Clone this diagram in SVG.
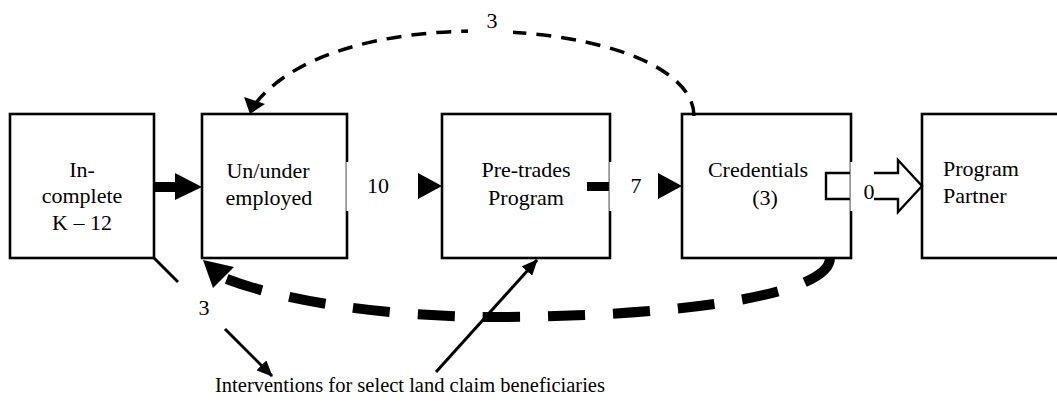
<svg xmlns="http://www.w3.org/2000/svg" width="1057" height="415" viewBox="0 0 1057 415">
  <style>
    .box { fill: #fff; stroke: #000; stroke-width: 2.6; }
    text { font-family: 'Liberation Serif', 'Times New Roman', serif; font-size: 22px; fill: #000; }
    .mid { text-anchor: middle; }
    .note { font-size: 20.5px; }
    .thin { fill: none; stroke: #000; stroke-width: 3; }
    .gap { fill: #fff; stroke: none; }
    .edge { stroke: #999; stroke-width: 1; }
    .dash-top { fill: none; stroke: #000; stroke-width: 3.5; stroke-dasharray: 15 10; }
    .dash-bottom { fill: none; stroke: #000; stroke-width: 10; stroke-dasharray: 37 28; }
    .hollow { fill: none; stroke: #000; stroke-width: 2.4; stroke-linejoin: miter; }
  </style>
  <defs>
    <marker id="head" viewBox="0 0 16 14" refX="15" refY="7" markerWidth="16" markerHeight="14" markerUnits="userSpaceOnUse" orient="auto">
      <path d="M0,0 L16,7 L0,14 z" fill="#000"/>
    </marker>
  </defs>

  <g font-family="Liberation Serif, Times New Roman, serif">
  <!-- boxes -->
  <g id="box-incomplete">
    <rect class="box" x="10" y="114" width="144" height="144"/>
    <text class="mid" x="82" y="177">In-</text>
    <text class="mid" x="82" y="203">complete</text>
    <text class="mid" x="82" y="230">K – 12</text>
  </g>
  <g id="box-unemployed">
    <rect class="box" x="202" y="114" width="145" height="144"/>
    <text class="mid" x="268" y="178">Un/under</text>
    <text class="mid" x="269" y="205">employed</text>
  </g>
  <g id="box-pretrades">
    <rect class="box" x="442" y="114" width="168" height="144"/>
    <text class="mid" x="526" y="177">Pre-trades</text>
    <text class="mid" x="526" y="205">Program</text>
  </g>
  <g id="box-credentials">
    <rect class="box" x="682" y="114" width="169" height="144"/>
    <text class="mid" x="758" y="177">Credentials</text>
    <text class="mid" x="765" y="205">(3)</text>
  </g>
  <g id="box-partner">
    <rect class="box" x="922" y="114" width="150" height="144"/>
    <text x="943" y="176">Program</text>
    <text x="943" y="203">Partner</text>
  </g>

  <!-- connectors -->
  <g id="connectors">
    <!-- Incomplete to Un/under -->
    <rect x="154" y="182" width="22" height="10" fill="#000"/>
    <polygon points="175,173 202,187 175,200" fill="#000"/>

    <!-- Un/under to Pre-trades, label 10 -->
    <rect class="gap" x="346.4" y="162" width="70" height="49"/>
    <line class="edge" x1="346.4" y1="162" x2="346.4" y2="211"/>
    <polygon points="418,173 442,186 418,199" fill="#000"/>
    <text class="mid" x="378" y="193">10</text>

    <!-- Pre-trades to Credentials, label 7 -->
    <rect x="587" y="182" width="23" height="9" fill="#000"/>
    <rect class="gap" x="609.4" y="162" width="47" height="49"/>
    <line class="edge" x1="609.4" y1="162" x2="609.4" y2="211"/>
    <polygon points="658,173 682,186 658,199" fill="#000"/>
    <text class="mid" x="636" y="193">7</text>

    <!-- Credentials to Program Partner, hollow arrow, label 0 -->
    <polyline class="hollow" points="850,173 826,173 826,199 850,199"/>
    <rect class="gap" x="850.4" y="162" width="22" height="49"/>
    <line class="edge" x1="850.4" y1="162" x2="850.4" y2="211"/>
    <polyline class="hollow" points="874,173 898,173 898,160 922,186 898,212 898,199 874,199"/>
    <text class="mid" x="869" y="199">0</text>

    <!-- Credentials back to Un/under (top), label 3 -->
    <path class="dash-top" d="M694,116 C694,70 610,33 480,31 C380,31 290,55 252,108"/>
    <polygon points="250,114 244,97 265,104" fill="#000"/>
    <rect class="gap" x="468" y="14" width="45" height="26"/>
    <text class="mid" x="492" y="28">3</text>

    <!-- Credentials back to Un/under (bottom) -->
    <path class="dash-bottom" d="M830,258 C830,292 700,316 500,317 C380,317 280,300 224,278"/>
    <polygon points="203,260 213,288 234,267" fill="#000"/>

    <!-- Incomplete to interventions, label 3 -->
    <line class="thin" x1="154" y1="258" x2="178" y2="282"/>
    <line class="thin" x1="225" y1="329" x2="272" y2="376" marker-end="url(#head)"/>
    <text class="mid" x="204" y="315">3</text>

    <!-- interventions to Pre-trades -->
    <line class="thin" x1="436" y1="372" x2="537" y2="260" marker-end="url(#head)"/>
  </g>

  <g id="note-interventions">
    <text class="mid note" x="410" y="392">Interventions for select land claim beneficiaries</text>
  </g>
  </g>
</svg>
